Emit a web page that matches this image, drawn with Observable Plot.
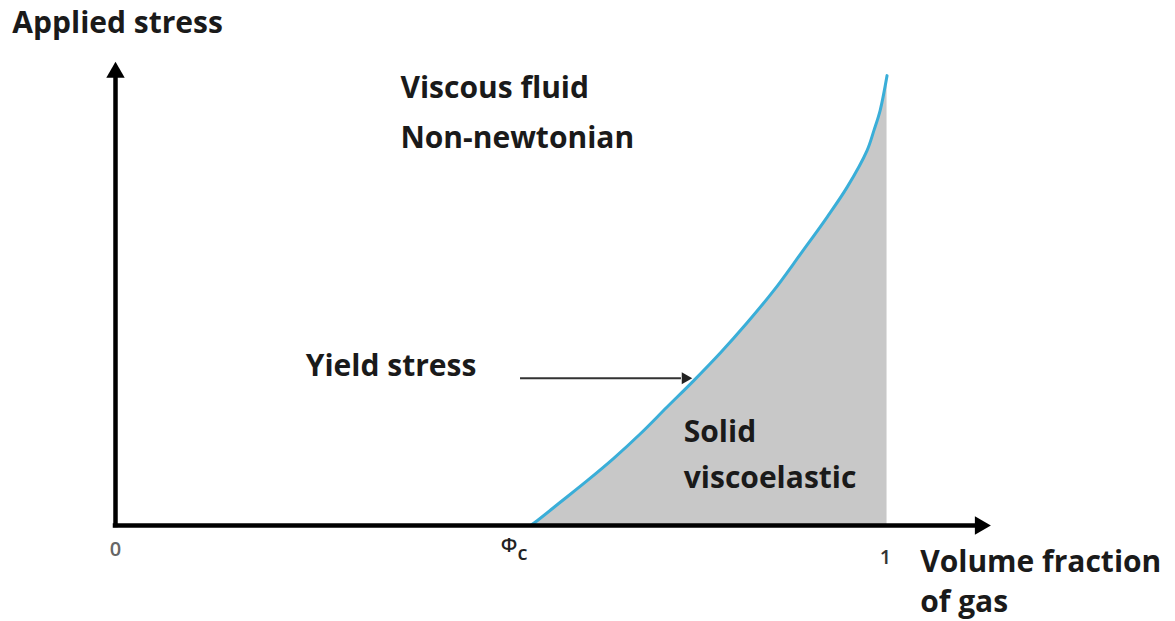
<!DOCTYPE html>
<html>
<head>
<meta charset="utf-8">
<script src="https://cdn.jsdelivr.net/npm/d3@7"></script>
<script src="https://cdn.jsdelivr.net/npm/@observablehq/plot@0.6"></script>
<style>
  html, body { margin: 0; padding: 0; background: #fff; }
  #chart svg { display: block; overflow: visible; }
</style>
</head>
<body>
<div id="chart"></div>
<script>
// Yield-stress curve: volume fraction of gas (0..1) vs applied stress (relative units)
const gasFraction = [0.539, 0.548, 0.578, 0.613, 0.647, 0.682, 0.716, 0.751, 0.786, 0.820, 0.855, 0.890, 0.924, 0.950, 0.976, 0.985, 0.993, 1.002];
const yieldStress = [0, 1.1, 5.1, 9.8, 14.6, 20.0, 25.7, 31.5, 37.6, 44.0, 51.1, 59.1, 67.0, 73.5, 81.5, 85.9, 90.2, 97.8];
const xTickLabels = ["0", "1"];
const phiLabel = ["Φ", "c"];
const yTitle = "Applied stress";
const xTitle = ["Volume fraction", "of gas"];
const fluidLabel = ["Viscous fluid", "Non-newtonian"];
const solidLabel = ["Solid", "viscoelastic"];
const yieldLabel = "Yield stress";

const curve = gasFraction.map((x, i) => ({x, y: yieldStress[i]}));

const font = "'Open Sans', sans-serif";
const big = {fontFamily: font, fontSize: 30, fontWeight: 700, fill: "#1a1a1a", textAnchor: "start"};
const small = {fontFamily: font, fontSize: 20, fontWeight: 600, fill: "#555"};

const plot = Plot.plot({
  width: 1175,
  height: 621,
  marginLeft: 115,
  marginRight: 290,
  marginTop: 65,
  marginBottom: 96,
  x: {domain: [0, 1], axis: null},
  y: {domain: [0, 100], axis: null},
  style: {background: "#fff", overflow: "visible"},
  marks: [
    Plot.areaY(curve, {x: "x", y: "y", fill: "#c8c8c8", curve: "catmull-rom"}),
    Plot.line(curve, {x: "x", y: "y", stroke: "#3aaed8", strokeWidth: 3, curve: "catmull-rom"}),
    // axes
    Plot.ruleX([0], {y1: 0, y2: 97, stroke: "#000", strokeWidth: 4.5, strokeLinecap: "square"}),
    Plot.ruleY([0], {x1: 0, x2: 1.12, stroke: "#000", strokeWidth: 4.5, strokeLinecap: "square"}),
    Plot.dot([{x: 0, y: 100}], {x: "x", y: "y", symbol: "triangle2", r: 8.8, fill: "#000", dy: 7}),
    Plot.dot([{x: 1.136, y: 0}], {x: "x", y: "y", symbol: "triangle2", r: 8.8, fill: "#000", rotate: 90, dx: -10}),
    // yield stress arrow
    Plot.ruleY([32.0], {x1: 0.526, x2: 0.735, stroke: "#333", strokeWidth: 2}),
    Plot.dot([{x: 0.749, y: 32.0}], {x: "x", y: "y", symbol: "triangle2", r: 5.8, fill: "#222", rotate: 90, dx: -7}),
    // labels
    Plot.text([yTitle], {x: -0.134, y: 109.1, text: d => d, ...big}),
    Plot.text([fluidLabel[0]], {x: 0.370, y: 95.0, text: d => d, ...big}),
    Plot.text([fluidLabel[1]], {x: 0.370, y: 84.1, text: d => d, ...big}),
    Plot.text([yieldLabel], {x: 0.247, y: 34.6, text: d => d, ...big}),
    Plot.text([solidLabel[0]], {x: 0.738, y: 20.2, text: d => d, ...big}),
    Plot.text([solidLabel[1]], {x: 0.738, y: 10.2, text: d => d, ...big}),
    Plot.text([xTitle[0]], {x: 1.045, y: -8.0, text: d => d, ...big}),
    Plot.text([xTitle[1]], {x: 1.045, y: -16.7, text: d => d, ...big}),
    Plot.text([xTickLabels[0]], {x: 0, y: -5.2, text: d => d, ...small, fill: "#666"}),
    Plot.text([xTickLabels[1]], {x: 1.0, y: -7.0, text: d => d, ...small, fill: "#333"}),
    Plot.text([phiLabel[0]], {x: 0.511, y: -4.3, text: d => d, ...small, fill: "#222"}),
    Plot.text([phiLabel[1]], {x: 0.522, y: -6.2, text: d => d, ...small, fill: "#222", textAnchor: "start"})
  ]
});
document.getElementById("chart").appendChild(plot);
</script>
</body>
</html>
